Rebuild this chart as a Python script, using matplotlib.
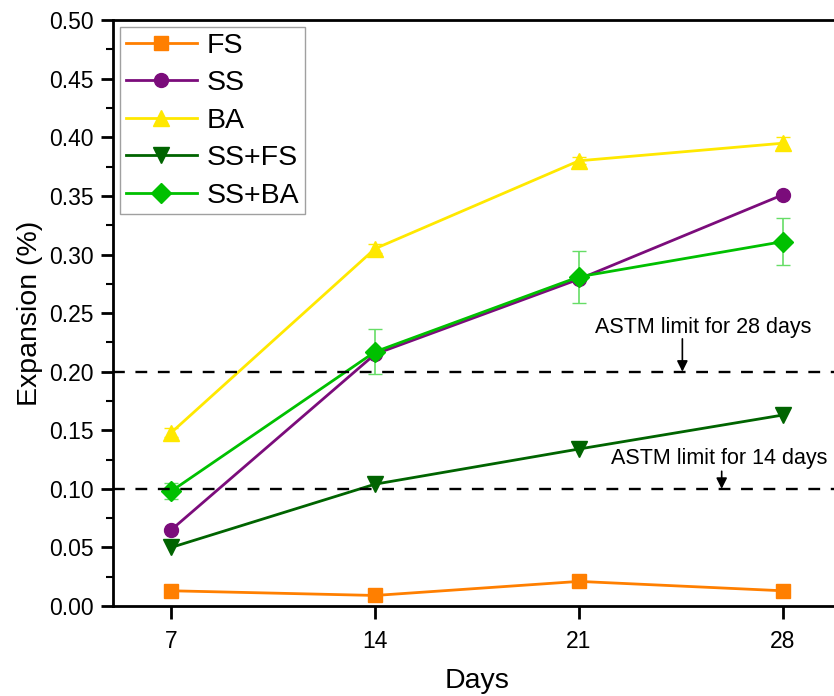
import numpy as np
import matplotlib
matplotlib.use("Agg")
import matplotlib.pyplot as plt
from matplotlib.ticker import MultipleLocator, FormatStrFormatter

plt.rcParams['font.family'] = ['Liberation Sans', 'DejaVu Sans']

days = [7, 14, 21, 28]
fs = [0.013, 0.009, 0.021, 0.013]
ss = [0.065, 0.215, 0.279, 0.351]
ba = [0.148, 0.305, 0.380, 0.395]
ss_fs = [0.050, 0.104, 0.134, 0.163]
ss_ba = [0.098, 0.217, 0.281, 0.311]
ss_ba_err = [0.007, 0.019, 0.022, 0.020]
ba_err = [0.004, 0.004, 0.003, 0.005]

limit_28 = 0.20
limit_14 = 0.10

fig = plt.figure(figsize=(8.34, 6.96), dpi=100)
ax = fig.add_axes([0.1355, 0.1293, 0.873, 0.8417])

# error bars drawn separately so the legend shows plain line+marker
ax.errorbar(days, ba, yerr=ba_err, fmt='none', ecolor='#FFE800', capsize=5, elinewidth=1)
ax.errorbar(days, ss_ba, yerr=ss_ba_err, fmt='none', ecolor='#66DD66', capsize=5,
            elinewidth=1.2)

ax.plot(days, fs, color='#FF7F00', marker='s', ms=10, lw=2, label='FS')
ax.plot(days, ss, color='#7B0C7B', marker='o', ms=10, lw=2, label='SS')
ax.plot(days, ba, color='#FFE800', marker='^', ms=11, lw=2, label='BA')
ax.plot(days, ss_fs, color='#006400', marker='v', ms=11, lw=2, label='SS+FS')
ax.plot(days, ss_ba, color='#00C000', marker='D', ms=10, lw=2, label='SS+BA')

ax.axhline(limit_28, color='black', ls=(0, (5, 4.5)), lw=1.7)
ax.axhline(limit_14, color='black', ls=(0, (5, 4.5)), lw=1.7)

arrow = dict(arrowstyle='-|>', color='black', lw=1.2, mutation_scale=16,
             shrinkA=0, shrinkB=0)
ax.annotate('', xy=(24.55, limit_28), xytext=(24.55, 0.228), arrowprops=arrow)
ax.text(25.25, 0.2376, 'ASTM limit for 28 days', ha='center', va='center', fontsize=15.5)
ax.annotate('', xy=(25.9, limit_14), xytext=(25.9, 0.115), arrowprops=arrow)
ax.text(25.8, 0.1256, 'ASTM limit for 14 days', ha='center', va='center', fontsize=15.5)

ax.set_xlim(5, 30)
ax.set_ylim(0, 0.5)
ax.set_xticks(days)
ax.yaxis.set_major_locator(MultipleLocator(0.05))
ax.yaxis.set_minor_locator(MultipleLocator(0.025))
ax.yaxis.set_major_formatter(FormatStrFormatter('%.2f'))
ax.tick_params(axis='both', which='major', direction='out', length=9, width=2, labelsize=16.5)
ax.tick_params(axis='y', which='minor', direction='out', length=5, width=1.5)
ax.tick_params(axis='x', pad=8)
ax.tick_params(axis='y', pad=5)
for sp in ax.spines.values():
    sp.set_linewidth(2)

ax.set_xlabel('Days', fontsize=20.5, labelpad=11)
ax.set_ylabel('Expansion (%)', fontsize=20.5, labelpad=4)

leg = ax.legend(loc='upper left', bbox_to_anchor=(0.0, 1.0), fontsize=20.5, frameon=True,
                fancybox=False, edgecolor='#888888', handlelength=2.5,
                borderaxespad=0.25, borderpad=0.2, labelspacing=0.4,
                handletextpad=0.35)
leg.get_frame().set_linewidth(1)

fig.savefig('out.png', dpi=100)
